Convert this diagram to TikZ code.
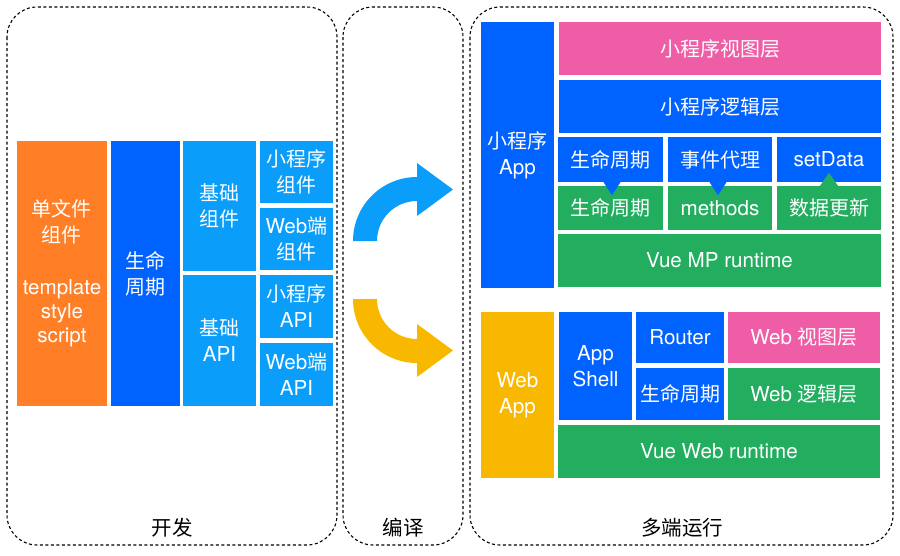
\documentclass[tikz,border=0pt]{standalone}
\usepackage{fontspec}
\setmainfont[Scale=1.03]{TeX Gyre Heros}
\newfontfamily\cjk{Noto Sans CJK SC}
\definecolor{corange}{HTML}{FF7E26}
\definecolor{cblue}{HTML}{0062FF}
\definecolor{clblue}{HTML}{0A9EFA}
\definecolor{cpink}{HTML}{EE5DA6}
\definecolor{cgreen}{HTML}{22AD5F}
\definecolor{cyellow}{HTML}{F9B800}
\begin{document}
\begin{tikzpicture}[x=1pt,y=-1pt,
  box/.style={rectangle, inner sep=0pt, text=white, align=center,
    font=\fontsize{20}{26}\selectfont},
  cont/.style={draw=black, line width=1.1pt, dash pattern=on 3pt off 2.5pt, rounded corners=30pt},
  lab/.style={text=black, font=\cjk\fontsize{20.5}{24}\selectfont}]
\useasboundingbox (0,0) rectangle (900,555);

% containers
\draw[cont] (7,7) rectangle (337,545);
\draw[cont] (343,7) rectangle (463,545);
\draw[cont] (470,7) rectangle (893,545);
\node[lab] (ldev) at (172,528) {开发};
\node[lab] (lcomp) at (403,528) {编译};
\node[lab] (lrun) at (682,528) {多端运行};

% left panel
\node[box, fill=corange, minimum width=90, minimum height=265] (sfc) at (62,273.5)
  {{\cjk 单文件}\\{\cjk 组件}\\[26pt]template\\[-2pt]style\\[-2pt]script};
\node[box, fill=cblue, minimum width=69, minimum height=265] (life) at (145.5,273.5)
  {{\cjk 生命}\\{\cjk 周期}};
\node[box, fill=clblue, minimum width=73, minimum height=130] (bcomp) at (219.5,206)
  {{\cjk 基础}\\{\cjk 组件}};
\node[box, fill=clblue, minimum width=73, minimum height=131] (bapi) at (219.5,340.5)
  {{\cjk 基础}\\API};
\node[box, fill=clblue, minimum width=73, minimum height=62] (mpcomp) at (296.5,172)
  {{\cjk 小程序}\\{\cjk 组件}};
\node[box, fill=clblue, minimum width=73, minimum height=62] (webcomp) at (296.5,239)
  {Web{\cjk 端}\\{\cjk 组件}};
\node[box, fill=clblue, minimum width=73, minimum height=63] (mpapi) at (296.5,306.5)
  {{\cjk 小程序}\\API};
\node[box, fill=clblue, minimum width=73, minimum height=63] (webapi) at (296.5,374.5)
  {Web{\cjk 端}\\API};

% arrows
\fill[clblue] (353,241) arc[start angle=180, end angle=270, radius=64]
  -- (417,163) -- (453,189.5) -- (417,216) -- (417,201)
  arc[start angle=270, end angle=180, radius=40] -- cycle;
\fill[cyellow] (353,299) arc[start angle=180, end angle=90, radius=64]
  -- (417,377) -- (453,350.5) -- (417,324) -- (417,339)
  arc[start angle=90, end angle=180, radius=40] -- cycle;

% mini program app
\node[box, fill=cblue, minimum width=73, minimum height=266] (mpapp) at (517.5,155)
  {{\cjk 小程序}\\App};
\node[box, fill=cpink, minimum width=322, minimum height=53] (mpview) at (720,48.5)
  {\cjk 小程序视图层};
\node[box, fill=cblue, minimum width=322, minimum height=53] (mplogic) at (720,106.5)
  {\cjk 小程序逻辑层};
\node[box, fill=cblue, minimum width=105, minimum height=45] (mplife) at (610.5,159.5)
  {\cjk 生命周期};
\node[box, fill=cblue, minimum width=104, minimum height=45] (mpevent) at (720,159.5)
  {\cjk 事件代理};
\node[box, fill=cblue, minimum width=104, minimum height=45] (mpset) at (829,159.5)
  {setData};
\node[box, fill=cgreen, minimum width=105, minimum height=44] (vlife) at (610.5,208)
  {\cjk 生命周期};
\node[box, fill=cgreen, minimum width=104, minimum height=44] (vmeth) at (720,208)
  {methods};
\node[box, fill=cgreen, minimum width=104, minimum height=44] (vupd) at (829,208)
  {\cjk 数据更新};
\node[box, fill=cgreen, minimum width=323, minimum height=53] (vuemp) at (719.5,260.5)
  {Vue MP runtime};
% pointer triangles
\fill[cblue] ([xshift=1.5pt]mplife.south) ++(-8.5,0) -- ++(17,0) -- ++(-8.5,13) -- cycle;
\fill[cblue] ([xshift=-2pt]mpevent.south) ++(-8.5,0) -- ++(17,0) -- ++(-8.5,13) -- cycle;
\fill[cgreen] (vupd.north) ++(-9,0) -- ++(18,0) -- ++(-9,-13) -- cycle;

% web app
\node[box, fill=cyellow, minimum width=73, minimum height=166] (webapp) at (517.5,395)
  {Web\\App};
\node[box, fill=cblue, minimum width=73, minimum height=108] (shell) at (595.5,366)
  {App\\Shell};
\node[box, fill=cblue, minimum width=88, minimum height=51] (router) at (680,337.5)
  {Router};
\node[box, fill=cblue, minimum width=88, minimum height=52] (wlife) at (680,394)
  {\cjk 生命周期};
\node[box, fill=cpink, minimum width=152, minimum height=51] (wview) at (804,337.5)
  {Web {\cjk 视图层}};
\node[box, fill=cgreen, minimum width=152, minimum height=52] (wlogic) at (804,394)
  {Web {\cjk 逻辑层}};
\node[box, fill=cgreen, minimum width=322, minimum height=53] (vueweb) at (719,451.5)
  {Vue Web runtime};
\end{tikzpicture}
\end{document}
